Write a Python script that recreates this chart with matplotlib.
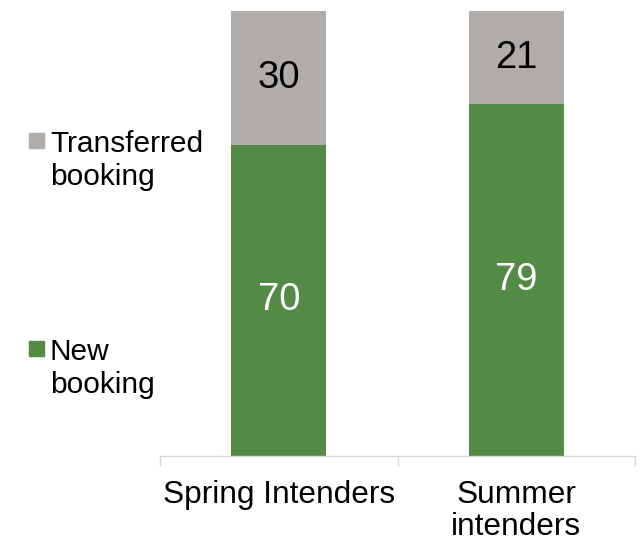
import matplotlib.pyplot as plt
from matplotlib.patches import Rectangle

plt.rcParams['font.family'] = ['Liberation Sans', 'DejaVu Sans']

categories = ['Spring Intenders', 'Summer\nintenders']
new_booking = [70, 79]
transferred = [30, 21]
legend_labels = ['Transferred\nbooking', 'New\nbooking']

green = '#538B44'
grey = '#AFACAA'

W, H = 641, 543
fig = plt.figure(figsize=(W / 100, H / 100), dpi=100)
ax = fig.add_axes([160 / W, 1 - 456 / H, 475 / W, 445 / H])

x = range(len(categories))
b1 = ax.bar(x, new_booking, width=0.4, color=green)
b2 = ax.bar(x, transferred, width=0.4, bottom=new_booking, color=grey)

for rect, v in zip(b1, new_booking):
    ax.text(rect.get_x() + rect.get_width() / 2, rect.get_y() + rect.get_height() / 2,
            str(v), ha='center', va='center', color='white', fontsize=27.5)
for rect, v in zip(b2, transferred):
    ax.text(rect.get_x() + rect.get_width() / 2, rect.get_y() + rect.get_height() / 2,
            str(v), ha='center', va='center', color='black', fontsize=27.5)

ax.set_xlim(-0.5, 1.5)
ax.set_ylim(0, 100)
ax.set_yticks([])
ax.set_xticks(list(x))
ax.set_xticklabels(categories, fontsize=22.8, linespacing=1.12)
ax.tick_params(axis='x', which='major', length=0, pad=17)
ax.set_xticks([-0.5, 0.5, 1.5], minor=True)
ax.tick_params(axis='x', which='minor', length=7, width=1, color='#D9D9D9')

for s in ['top', 'right', 'left']:
    ax.spines[s].set_visible(False)
ax.spines['bottom'].set_color('#D9D9D9')
ax.spines['bottom'].set_linewidth(1)

# legend drawn by hand so the square sits beside the first line
legend_colors = [grey, green]
legend_tops = [133, 341]
for lab, col, top in zip(legend_labels, legend_colors, legend_tops):
    fig.patches.append(Rectangle((29 / W, 1 - (top + 15) / H), 15 / W, 15 / H,
                                 color=col, transform=fig.transFigure))
    fig.text(50 / W, 1 - (top - 3) / H, lab, ha='left', va='top',
             fontsize=21.5, linespacing=1.22)

fig.savefig('out.png', dpi=100)
